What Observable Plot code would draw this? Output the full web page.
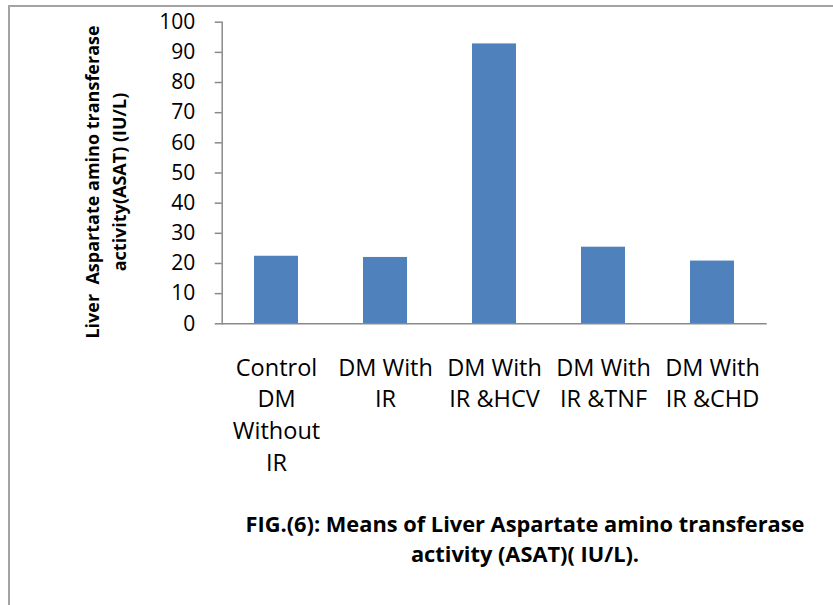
<!DOCTYPE html>
<html>
<head>
<meta charset="utf-8">
<script src="https://cdn.jsdelivr.net/npm/d3@7"></script>
<script src="https://cdn.jsdelivr.net/npm/@observablehq/plot@0.6"></script>
<style>
  html, body { margin: 0; padding: 0; background: #fff; }
  body { width: 833px; height: 605px; position: relative; overflow: hidden; font-family: "Open Sans", sans-serif; }
  #frame { position: absolute; left: 8px; top: 5px; width: 900px; height: 700px;
           border-top: 2px solid #a3a3a3; border-left: 2px solid #a3a3a3; box-sizing: border-box; }
  #chart { position: absolute; left: 0; top: 0; }
  #caption { position: absolute; left: 205px; top: 509px; width: 640px; text-align: center;
             font-weight: bold; font-size: 21.8px; line-height: 30px; color: #000; }
</style>
</head>
<body>
<div id="frame"></div>
<div id="chart"></div>
<div id="caption">FIG.(6): Means of Liver Aspartate amino transferase<br>activity (ASAT)( IU/L).</div>
<script>
const categories = ["Control DM Without IR", "DM With IR", "DM With IR &HCV", "DM With IR &TNF", "DM With IR &CHD"];
const categoryLabels = ["Control\nDM\nWithout\nIR", "DM With\nIR", "DM With\nIR &HCV", "DM With\nIR &TNF", "DM With\nIR &CHD"];
const values = [22.4, 22.0, 92.8, 25.4, 20.8];
const yTicks = [0, 10, 20, 30, 40, 50, 60, 70, 80, 90, 100];
const yLabel = "Liver  Aspartate amino transferase\nactivity(ASAT) (IU/L)";

const data = categories.map((c, i) => ({category: c, value: values[i]}));
const labelOf = new Map(categories.map((c, i) => [c, categoryLabels[i]]));

const axisGray = "#898989";
const font = "Open Sans, sans-serif";

const chart = Plot.plot({
  width: 833,
  height: 490,
  marginLeft: 221.7,
  marginRight: 66.3,
  marginTop: 21.7,
  marginBottom: 166.7,
  style: {fontFamily: font, color: "#000", background: "transparent", overflow: "visible"},
  x: {domain: categories, paddingInner: 0.6, paddingOuter: 0.3, axis: null},
  y: {domain: [0, 100], axis: null},
  marks: [
    Plot.barY(data, {x: "category", y: "value", fill: "#4f81bd"}),
    Plot.axisY({ticks: yTicks, tickSize: 7, tickPadding: 20, stroke: axisGray, strokeWidth: 1.5,
                fill: "#000", fontSize: 21, label: null, tickFormat: d => String(d)}),
    Plot.axisX({tickSize: 0, tickPadding: 29, fontSize: 23.5, lineHeight: 1.36, fill: "#000",
                label: null, textAnchor: "middle", lineAnchor: "top",
                tickFormat: d => labelOf.get(d)}),
    Plot.frame({anchor: "left", stroke: axisGray, strokeWidth: 1.5}),
    Plot.ruleY([0], {stroke: axisGray, strokeWidth: 1.5}),
    Plot.text([yLabel], {frameAnchor: "left", dx: -118, dy: 9, rotate: -90, fontWeight: "bold",
                         fontSize: 18, lineHeight: 1.5, textAnchor: "middle", lineAnchor: "middle", fill: "#000"})
  ]
});
document.getElementById("chart").appendChild(chart);
</script>
</body>
</html>
